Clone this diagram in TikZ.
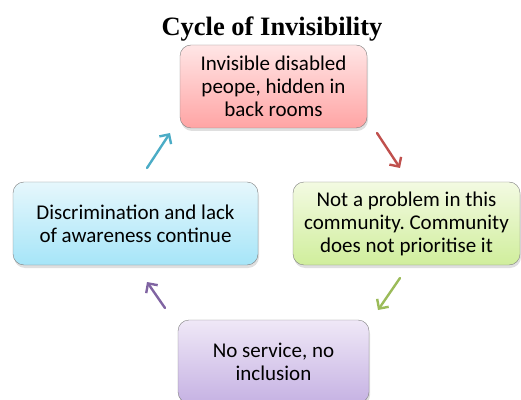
\documentclass[tikz,border=0pt]{standalone}
\usepackage{fontspec}
\setmainfont{Carlito}
\newfontfamily\titlefont{Liberation Serif}
\usetikzlibrary{arrows.meta,shadows}
\definecolor{stepred}{HTML}{C0504D}
\definecolor{stepgreen}{HTML}{9BBB59}
\definecolor{steppurple}{HTML}{8064A2}
\definecolor{stepblue}{HTML}{4BACC6}
\definecolor{redtop}{HTML}{FFE6E6}\definecolor{redbot}{HTML}{FFA4A4}
\definecolor{greentop}{HTML}{F3FAE2}\definecolor{greenbot}{HTML}{D0EE9C}
\definecolor{bluetop}{HTML}{E6F7FC}\definecolor{bluebot}{HTML}{A6E5F8}
\definecolor{purpletop}{HTML}{EFE8F7}\definecolor{purplebot}{HTML}{C6B2E3}
\frenchspacing

\begin{document}
\begin{tikzpicture}[x=1pt,y=1pt,
phase/.style={draw=black!50,rounded corners=11pt,align=center,minimum height=83pt,
  font=\fontsize{21}{23}\selectfont,
  drop shadow={opacity=0.25,shadow xshift=1pt,shadow yshift=-3pt}},
redbox/.style={phase,top color=redtop,bottom color=redbot},
greenbox/.style={phase,top color=greentop,bottom color=greenbot},
bluebox/.style={phase,top color=bluetop,bottom color=bluebot},
purplebox/.style={phase,top color=purpletop,bottom color=purplebot},
cyc/.style={line width=2.4pt,line cap=round,-{Straight Barb[length=7pt,width=14pt,line width=2.4pt]}}]
\useasboundingbox (0,0) rectangle (521,399);
\node[font=\titlefont\bfseries\fontsize{26.5}{30}\selectfont] (title) at (272,370) {Cycle of Invisibility};
\node[redbox,minimum width=187pt] (hidden) at (273.5,312.5) {Invisible disabled\\peope, hidden in\\back rooms};
\node[greenbox,minimum width=227pt] (noprob) at (406.5,175.5) {Not a problem in this\\community. Community\\does not prioritise it};
\node[purplebox,minimum width=191pt] (noserv) at (273.5,37.5) {No service, no\\inclusion};
\node[bluebox,minimum width=245pt] (discrim) at (135.5,175.5) {Discrimination and lack\\of awareness continue};
% arrow ends
\coordinate (r1) at (377,266); \coordinate (r2) at (400,231);
\coordinate (g1) at (400,121); \coordinate (g2) at (378,89);
\coordinate (p1) at (165,91);  \coordinate (p2) at (147,117);
\coordinate (b1) at (147,231); \coordinate (b2) at (170,266);
\draw[cyc,stepred] (r1)--(r2);
\draw[cyc,stepgreen] (g1)--(g2);
\draw[cyc,steppurple] (p1)--(p2);
\draw[cyc,stepblue] (b1)--(b2);
\end{tikzpicture}
\end{document}
